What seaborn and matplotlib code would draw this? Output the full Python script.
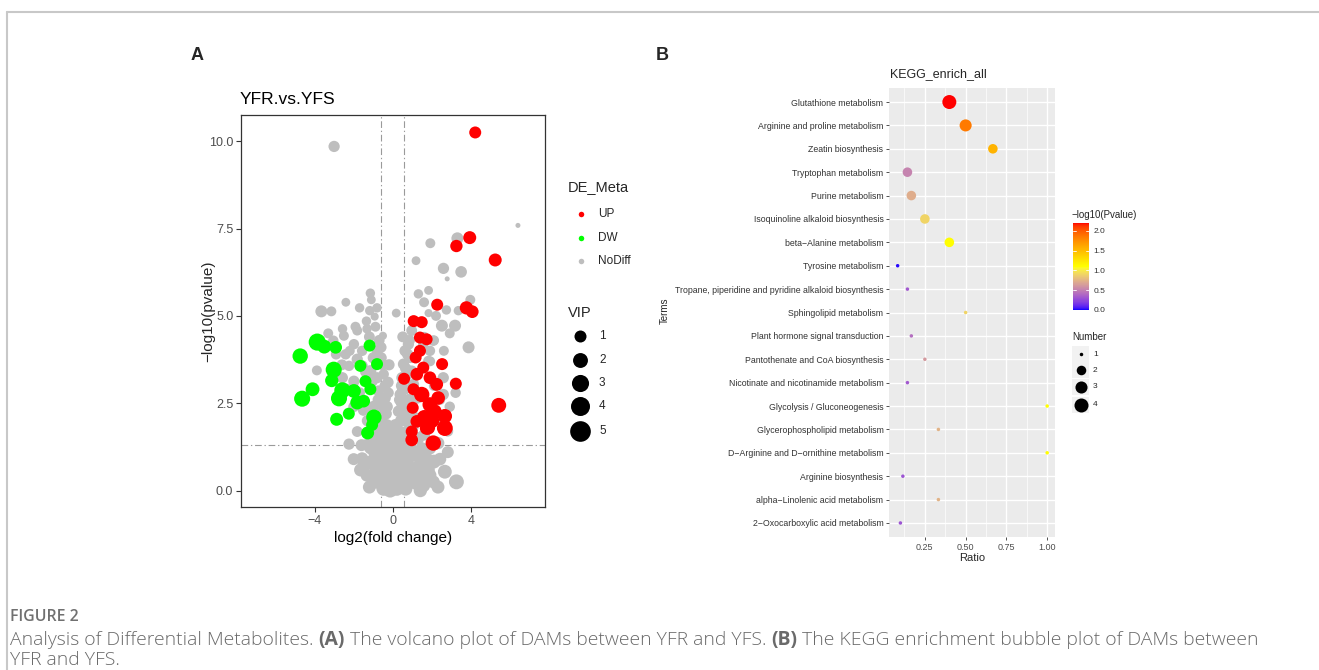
import numpy as np
import pandas as pd
import matplotlib
matplotlib.use("Agg")
import matplotlib.pyplot as plt
import seaborn as sns
from matplotlib.colors import ListedColormap, Normalize
from matplotlib.lines import Line2D
from matplotlib.patches import Rectangle
import matplotlib.cm as cm

W, H = 1319, 670

# ---------------- Panel A data (volcano) ----------------
up_x = [4.20, 3.92, 3.24, 5.22, 2.26, 3.75, 4.05, 1.06, 1.47, 1.38, 1.72, 1.16, 2.51, 0.57, 3.21,
        5.40, 1.22, 1.47, 1.89, 2.14, 2.65, 2.65, 2.06, 0.96, 1.72, 1.22, 2.23, 1.55, 1.89, 1.01,
        2.31, 1.38, 0.96, 1.80, 1.05, 1.60, 2.00]
up_y = [10.25, 7.24, 7.00, 6.60, 5.32, 5.23, 5.12, 4.85, 4.82, 4.38, 4.33, 3.81, 3.62, 3.20, 3.06,
        2.44, 3.33, 2.75, 2.46, 2.27, 2.13, 1.79, 1.36, 1.45, 1.79, 1.98, 3.04, 3.52, 3.23, 2.37,
        2.65, 4.00, 1.69, 1.80, 2.90, 2.10, 2.00]
up_vip = [1.0, 1.3, 1.1, 1.3, 1.0, 1.4, 1.2, 1.0, 1.0, 1.0, 1.0, 1.0, 1.0, 1.0, 1.0,
          2.0, 1.2, 2.2, 2.0, 1.5, 1.8, 2.4, 2.2, 1.2, 1.5, 1.2, 1.3, 1.0, 1.2, 1.0,
          1.5, 1.0, 1.0, 1.6, 1.0, 1.8, 1.8]

dw_x = [-3.86, -3.50, -2.92, -4.73, -3.02, -3.12, -4.10, -4.63, -2.58, -2.75, -1.99, -1.82,
        -2.25, -2.87, -1.19, -0.81, -1.40, -0.97, -1.29, -1.66, -1.49, -1.06, -1.15]
dw_y = [4.25, 4.12, 4.10, 3.85, 3.46, 3.15, 2.90, 2.63, 2.87, 2.64, 2.85, 2.52,
        2.20, 2.04, 4.15, 3.62, 3.13, 2.10, 1.65, 3.57, 2.56, 1.88, 2.90]
dw_vip = [3.0, 1.6, 1.2, 2.2, 2.5, 1.4, 1.6, 2.5, 2.5, 2.5, 1.6, 1.6,
          1.0, 1.3, 1.0, 1.0, 1.0, 2.2, 1.3, 1.0, 1.2, 1.0, 1.0]

nd_x = [-3.00, 6.38, 3.29, 1.91, 1.18, 2.58, 3.48, 2.77, 3.95, 1.82, 1.30, 1.59, 1.82, 2.73, 3.34,
        0.17, 2.50, 3.17, 3.86, -1.15, -1.10, -2.40, -3.65, -3.14, -1.70, -1.18, -0.81, -0.93, -1.35,
        -1.91, -2.57, -1.82, -1.32, -0.89, -0.51, -2.50, -3.04, -2.41, -3.88, -1.99, -1.57, -1.82,
        -2.24, -1.57, -2.58, -1.99, -1.15, -0.81, -0.47, -0.22, -1.82, -2.24,
        -1.65, -1.32, -1.49, -1.57, -1.15, -0.98, -0.81, -1.15, -1.32, -0.98, -0.64, -0.30, -0.39,
        -0.64, -0.56, -0.81, -0.47, -0.14, -0.05, 0.12, 0.20, 0.03, -0.22, -0.14, 0.29, 0.46, 0.54,
        0.54, 0.71, 0.79, 0.88, 0.96, 1.30, 1.38, 1.55, 1.72, 1.89, 2.06, 2.09, 2.65, 3.24, 1.13,
        1.47, 1.89, 2.31, 0.88, 0.54, 0.20, -0.30, -0.56, -0.81, -0.30, 0.12, 0.37, 0.71, 0.71,
        -0.47, -0.56, 0.29, 0.62, -0.39, -0.73, 0.37, 1.13, 1.22, 0.46, 0.54, 0.62, 0.79, 0.96,
        0.88, 0.96, 1.05, -1.06, -0.90, -1.00, -0.70, -1.10, -0.40, -0.60, -0.80, -1.00, -1.20,
        -0.60, 0.50, 0.60, 0.70, 0.80, 0.90, 0.40, 0.30, 1.00, 1.30, 1.60, 1.20, 0.00, -0.30,
        0.30, -0.90, -1.20, 1.70, 2.30, 0.10, -0.10, -1.30, -1.50, -1.70, -1.40, -2.00, -2.30,
        -2.60, -2.90, -3.30, -2.20, 1.60, 1.90, 2.10, 2.40, 2.50, 2.80, 2.90, 3.20, 2.10, 2.60,
        2.20, 2.90, 2.57, 2.57, 1.89, 1.55, 2.06, 1.81, -0.25, -0.35, -0.20, 0.35, 0.45, 0.40,
        0.65, 0.75, -0.45, -0.65, -0.75, -0.95, 0.15, -0.05, 0.95, 1.10, 1.40,
        -1.00, -0.60, -0.20, 0.40, 0.80, 1.20, 1.00, 0.50, -0.40, -0.90, -1.30, -0.20, 0.30, 0.60,
        -0.60, -0.30, 0.45, -0.25, 0.50, 0.65, -0.50, 0.75, 0.85, -0.70, 1.50, 1.80, 2.40, 2.80,
        -2.00, -1.60, 0.00, 0.25, -0.45, 0.65, 1.40]
nd_y = [9.85, 7.59, 7.22, 7.08, 6.58, 6.36, 6.26, 6.06, 5.46, 5.73, 5.63, 5.39, 5.08, 5.17, 5.15,
        5.08, 4.72, 4.72, 4.10, 5.65, 5.46, 5.39, 5.13, 5.13, 5.23, 5.15, 5.23, 4.98, 4.85,
        4.69, 4.63, 4.58, 4.63, 4.69, 4.43, 4.43, 4.29, 3.90, 3.44, 4.19, 4.00, 3.76,
        3.57, 3.57, 3.23, 3.13, 3.42, 3.23, 3.33, 2.80, 1.69, 1.33,
        0.59, 0.44, 0.73, 0.92, 0.83, 0.73, 1.02, 1.21, 1.31, 1.45, 0.73, 0.54, 1.12,
        1.31, 0.35, 0.25, 0.06, 0.01, 0.63, 0.35, 0.06, 0.83, 0.92, 1.31, 0.92, 0.73, 0.35,
        0.15, 0.44, 0.92, 0.59, 0.25, 0.54, 0.73, 0.15, 0.92, 0.44, 0.25, 0.83, 0.54, 0.25, 1.02,
        1.21, 1.21, 1.36, 1.31, 1.21, 1.40, 1.40, 1.79, 1.88, 1.88, 1.88, 1.69, 1.50, 1.98,
        2.27, 2.46, 2.27, 2.46, 2.65, 2.85, 2.75, 2.08, 2.65, 3.23, 3.62, 4.00, 4.19, 4.58,
        3.81, 3.42, 3.04, 3.13, 2.00, 2.40, 1.60, 1.70, 3.00, 3.80, 4.00, 3.80, 4.40,
        4.10, 4.40, 2.90, 3.30, 2.60, 2.20, 2.00, 1.20, 1.80, 1.50, 1.60, 0.20, 0.20, 0.20,
        0.50, 0.50, 0.10, 0.40, 0.10, 1.10, 0.40, 2.00, 2.30, 2.80, 3.40, 2.40, 2.90,
        3.60, 3.90, 4.50, 4.00, 4.40, 3.70, 3.00, 2.60, 2.00, 1.70, 2.40, 2.80, 4.30, 4.00,
        5.00, 4.50, 3.23, 2.75, 4.00, 4.19, 4.29, 3.71, 1.60, 2.20, 3.60, 2.60, 3.00, 1.00,
        1.10, 1.70, 0.90, 2.10, 2.60, 1.10, 0.70, 1.60, 0.40, 0.60, 0.80,
        0.30, 0.60, 0.30, 0.20, 0.70, 0.40, 1.10, 1.00, 0.90, 1.00, 0.80, 1.60, 1.60, 2.20,
        2.00, 2.40, 2.50, 3.10, 2.90, 3.50, 3.60, 3.90, 4.30, 4.30, 0.90, 0.60, 0.90, 1.10,
        0.90, 1.30, 0.60, 0.75, 0.45, 0.05, 0.00]
nd_vip = [0.8, 0.0, 1.0, 0.5, 0.3, 0.8, 0.9, 0.0, 0.5, 0.3, 0.4, 0.5, 0.2, 0.4, 0.4,
          0.3, 1.0, 1.0, 1.0, 0.4, 0.3, 0.3, 1.0, 0.5, 0.4, 0.4, 0.4, 0.2, 0.4,
          0.5, 0.4, 0.5, 0.4, 0.5, 0.2, 0.5, 0.6, 0.6, 0.5, 0.6, 0.6, 0.8,
          0.6, 0.8, 0.8, 0.8, 1.0, 0.8, 0.6, 0.6, 0.7, 0.8,
          1.3, 1.3, 1.1, 1.1, 1.1, 1.2, 1.1, 1.0, 1.0, 1.0, 1.2, 1.3, 1.1,
          1.1, 1.4, 1.5, 1.9, 1.9, 1.3, 1.5, 1.9, 1.3, 1.2, 1.1, 1.2, 1.2, 1.4,
          1.5, 1.3, 1.2, 1.3, 1.5, 1.3, 1.2, 1.6, 1.2, 1.3, 1.3, 1.6, 1.6, 2.0, 1.1,
          1.1, 1.1, 1.1, 1.1, 1.1, 1.0, 1.0, 0.9, 0.9, 0.9, 0.9, 0.9, 1.0, 0.9,
          0.9, 0.9, 0.9, 0.9, 0.8, 0.8, 0.8, 0.9, 0.9, 0.8, 0.8, 0.8, 0.8, 0.7,
          0.8, 0.8, 0.8, 0.8, 0.9, 0.9, 0.9, 0.9, 0.8, 0.8, 0.8, 0.8, 0.7,
          0.7, 0.7, 0.8, 0.8, 0.9, 0.9, 0.9, 1.0, 1.0, 1.0, 1.0, 1.3, 1.3, 1.3,
          1.3, 1.3, 1.3, 1.3, 1.3, 1.2, 1.3, 0.8, 0.8, 0.7, 0.7, 0.7, 0.7,
          0.7, 0.6, 0.5, 0.5, 0.5, 0.5, 0.6, 0.6, 0.7, 0.7, 0.6, 0.6, 0.5, 0.5,
          0.5, 0.5, 0.8, 0.8, 0.6, 0.6, 0.6, 0.6, 0.9, 0.9, 0.8, 0.9, 0.9, 1.1,
          1.1, 0.9, 1.1, 0.9, 0.8, 1.1, 1.3, 1.0, 1.3, 1.3, 1.2,
          1.5, 1.5, 1.8, 1.6, 1.4, 1.4, 1.2, 1.3, 1.3, 1.2, 1.2, 1.0, 1.0, 0.9,
          0.9, 0.9, 0.9, 0.8, 0.8, 0.8, 0.8, 0.8, 0.7, 0.7, 1.2, 1.4, 1.2, 1.0,
          1.0, 1.0, 1.8, 1.5, 1.6, 1.5, 1.4]

fc_cut = 0.585
p_cut = 1.301

# ---------------- Panel B data (KEGG bubble) ----------------
terms = ["Glutathione metabolism", "Arginine and proline metabolism", "Zeatin biosynthesis",
         "Tryptophan metabolism", "Purine metabolism", "Isoquinoline alkaloid biosynthesis",
         "beta\u2212Alanine metabolism", "Tyrosine metabolism",
         "Tropane, piperidine and pyridine alkaloid biosynthesis", "Sphingolipid metabolism",
         "Plant hormone signal transduction", "Pantothenate and CoA biosynthesis",
         "Nicotinate and nicotinamide metabolism", "Glycolysis / Gluconeogenesis",
         "Glycerophospholipid metabolism", "D\u2212Arginine and D\u2212ornithine metabolism",
         "Arginine biosynthesis", "alpha\u2212Linolenic acid metabolism",
         "2\u2212Oxocarboxylic acid metabolism"]
ratio = [0.40, 0.50, 0.667, 0.143, 0.167, 0.25, 0.40, 0.083, 0.143, 0.50, 0.167, 0.25,
         0.143, 1.00, 0.333, 1.00, 0.115, 0.333, 0.10]
neglogp = [2.20, 1.85, 1.55, 0.52, 0.72, 0.90, 1.10, 0.02, 0.32, 0.90, 0.42, 0.62,
           0.32, 1.10, 0.74, 1.10, 0.30, 0.74, 0.30]
number = [4, 3, 2, 2, 2, 2, 2, 1, 1, 1, 1, 1, 1, 1, 1, 1, 1, 1, 1]

# ---------------- helpers ----------------
def fx(px):
    return px / W

def fy(py):
    return 1 - py / H

_M = np.array([[0.4124564, 0.3575761, 0.1804375],
               [0.2126729, 0.7151522, 0.0721750],
               [0.0193339, 0.1191920, 0.9503041]])
_WP = np.array([0.95047, 1.0, 1.08883])

def srgb_to_lab(rgb):
    rgb = np.asarray(rgb, float)
    lin = np.where(rgb <= 0.04045, rgb / 12.92, ((rgb + 0.055) / 1.055) ** 2.4)
    xyz = lin @ _M.T
    t = xyz / _WP
    d = 6 / 29
    f = np.where(t > d ** 3, np.cbrt(t), t / (3 * d * d) + 4 / 29)
    return np.stack([116 * f[..., 1] - 16, 500 * (f[..., 0] - f[..., 1]),
                     200 * (f[..., 1] - f[..., 2])], -1)

def lab_to_srgb(lab):
    L, a, b = lab[..., 0], lab[..., 1], lab[..., 2]
    fyy = (L + 16) / 116
    f = np.stack([fyy + a / 500, fyy, fyy - b / 200], -1)
    d = 6 / 29
    t = np.where(f > d, f ** 3, 3 * d * d * (f - 4 / 29))
    lin = np.clip((t * _WP) @ np.linalg.inv(_M).T, 0, 1)
    rgb = np.where(lin <= 0.0031308, 12.92 * lin, 1.055 * lin ** (1 / 2.4) - 0.055)
    return np.clip(rgb, 0, 1)

anchors = srgb_to_lab(np.array([[0, 0, 1], [1, 1, 0], [1, 0, 0]], float))
tt = np.linspace(0, 1, 256)
labs = []
for t in tt:
    if t <= 0.5:
        u = t / 0.5
        labs.append(anchors[0] * (1 - u) + anchors[1] * u)
    else:
        u = (t - 0.5) / 0.5
        labs.append(anchors[1] * (1 - u) + anchors[2] * u)
cmap = ListedColormap(lab_to_srgb(np.array(labs)))
pnorm = Normalize(0, 2.2)

def vip_diam_px(v):
    return 5.0 + 7.0 * np.sqrt(v)

def vip_area(v):
    return (vip_diam_px(v) * 0.72) ** 2

def num_diam_px(n):
    return 3.5 + 10.5 * np.sqrt((n - 1) / 3)

def num_area(n):
    return (num_diam_px(n) * 0.72) ** 2

# ---------------- figure ----------------
sns.set_theme(style="white")
plt.rcParams['font.family'] = ['Liberation Sans', 'DejaVu Sans']
fig = plt.figure(figsize=(W / 100, H / 100), dpi=100)
fig.patch.set_facecolor('white')

# frame of the figure (top + left)
fig.add_artist(Line2D([fx(7), 1], [fy(12), fy(12)], transform=fig.transFigure, color='#c8c8c8', lw=1.5))
fig.add_artist(Line2D([fx(7), fx(7)], [0, fy(12)], transform=fig.transFigure, color='#c8c8c8', lw=1.5))

# ---------------- Panel A ----------------
axA = fig.add_axes([fx(241), fy(507), fx(545) - fx(241), fy(115) - fy(507)])
dfA = pd.DataFrame({
    'log2FC': nd_x + dw_x + up_x,
    'nlp': nd_y + dw_y + up_y,
    'VIP': nd_vip + dw_vip + up_vip,
    'DE_Meta': ['NoDiff'] * len(nd_x) + ['DW'] * len(dw_x) + ['UP'] * len(up_x),
})
size_map = {v: vip_area(v) for v in sorted(set(dfA['VIP']))}
sns.scatterplot(data=dfA, x='log2FC', y='nlp', hue='DE_Meta',
                palette={'UP': '#FF0000', 'DW': '#00FF00', 'NoDiff': '#BEBEBE'},
                size='VIP', sizes=size_map, linewidth=0, alpha=1, legend=False, ax=axA, zorder=3)
ls = (0, (6, 2.5, 1.2, 2.5))
axA.axvline(-fc_cut, color='#9a9a9a', lw=0.8, ls=ls, zorder=1)
axA.axvline(fc_cut, color='#9a9a9a', lw=0.8, ls=ls, zorder=1)
axA.axhline(p_cut, color='#9a9a9a', lw=0.8, ls=ls, zorder=1)
axA.set_xlim(-7.75, 7.76)
axA.set_ylim(-0.47, 10.75)
axA.set_xticks([-4, 0, 4])
axA.set_xticklabels(['\u22124', '0', '4'])
axA.set_yticks([0, 2.5, 5, 7.5, 10])
axA.set_yticklabels(['0.0', '2.5', '5.0', '7.5', '10.0'])
axA.tick_params(axis='both', which='major', direction='out', length=3.5, width=0.8,
                color='#333333', labelsize=9, labelcolor='#4D4D4D', pad=2,
                bottom=True, left=True)
for s in axA.spines.values():
    s.set_color('#333333')
    s.set_linewidth(0.9)
axA.set_xlabel('log2(fold change)', fontsize=11, color='black', labelpad=3)
axA.set_ylabel('')
axA.grid(False)
fig.text(fx(208), fy(311), '\u2212log10(pvalue)', fontsize=11, rotation=90, ha='center', va='center')

fig.text(fx(240), fy(100), 'YFR.vs.YFS', fontsize=12.5, ha='left', va='center', color='black')
fig.text(fx(191), fy(56), 'A', fontsize=13, fontweight='bold', ha='left', va='center')
fig.text(fx(656), fy(56), 'B', fontsize=13, fontweight='bold', ha='left', va='center')

# overlay for legends
ov = fig.add_axes([0, 0, 1, 1], zorder=10)
ov.set_xlim(0, W)
ov.set_ylim(H, 0)
ov.axis('off')

ov.text(568, 187, 'DE_Meta', fontsize=10.5, ha='left', va='center')
for yy, lab, col in [(214, 'UP', '#FF0000'), (238, 'DW', '#00FF00'), (261, 'NoDiff', '#BEBEBE')]:
    ov.scatter([581], [yy], s=(5.5 * 0.72) ** 2, color=col, linewidths=0)
    ov.text(598, yy, lab, fontsize=8.5, ha='left', va='center')
ov.text(568, 313, 'VIP', fontsize=10.5, ha='left', va='center')
for yy, v in zip([336, 360, 383, 406, 431], [1, 2, 3, 4, 5]):
    ov.scatter([580], [yy], s=vip_area(v), color='black', linewidths=0)
    ov.text(599, yy, str(v), fontsize=8.5, ha='left', va='center')

# ---------------- Panel B ----------------
axB = fig.add_axes([fx(889), fy(537), fx(1055) - fx(889), fy(88) - fy(537)])
axB.set_facecolor('#EBEBEB')
dfB = pd.DataFrame({'Terms': terms, 'Ratio': ratio, 'nlp': neglogp, 'Number': number}).iloc[::-1]
axB.set_axisbelow(True)
sns.scatterplot(data=dfB, x='Ratio', y='Terms', hue='nlp', palette=cmap, hue_norm=pnorm,
                size='Number', sizes={n: num_area(n) for n in [1, 2, 3, 4]},
                linewidth=0, legend=False, ax=axB, zorder=3)
axB.set_xlim(0.03, 1.048)
axB.set_ylim(-0.6, len(terms) - 0.4)
axB.set_xticks([0.25, 0.5, 0.75, 1.0])
axB.set_xticklabels(['0.25', '0.50', '0.75', '1.00'])
axB.set_xticks([0.125, 0.375, 0.625, 0.875], minor=True)
axB.grid(which='major', axis='both', color='white', lw=1.0)
axB.grid(which='minor', axis='x', color='white', lw=0.5)
for s in axB.spines.values():
    s.set_visible(False)
axB.tick_params(axis='both', which='major', direction='out', length=2.5, width=0.6,
                color='#333333', labelsize=6.3, labelcolor='#333333', pad=1.5,
                bottom=True, left=True)
axB.tick_params(axis='x', labelsize=6.5, labelcolor='#4D4D4D')
axB.tick_params(which='minor', length=0)
axB.set_xlabel('Ratio', fontsize=8, labelpad=1)
axB.set_ylabel('')
fig.text(fx(665), fy(311), 'Terms', fontsize=7, rotation=90, ha='center', va='center')
fig.text(fx(890), fy(74), 'KEGG_enrich_all', fontsize=9, ha='left', va='center')

# colorbar
cax = fig.add_axes([fx(1073), fy(310), fx(1089) - fx(1073), fy(223) - fy(310)])
cb = fig.colorbar(cm.ScalarMappable(norm=pnorm, cmap=cmap), cax=cax)
cb.outline.set_visible(False)
cb.set_ticks([0.0, 0.5, 1.0, 1.5, 2.0])
cb.set_ticklabels(['0.0', '0.5', '1.0', '1.5', '2.0'])
cax.tick_params(length=0, labelsize=6, labelcolor='#333333', pad=3)
for v in [0.0, 0.5, 1.0, 1.5, 2.0]:
    cax.plot([0, 0.2], [v, v], color='white', lw=0.6, transform=cax.get_yaxis_transform())
    cax.plot([0.8, 1.0], [v, v], color='white', lw=0.6, transform=cax.get_yaxis_transform())
ov.text(1071, 215, '\u2212log10(Pvalue)', fontsize=7, ha='left', va='center')

ov.text(1072, 337, 'Number', fontsize=7, ha='left', va='center')
for yy, n in zip([354, 370, 387, 405], [1, 2, 3, 4]):
    ov.add_patch(Rectangle((1072, yy - 8), 17, 16, facecolor='#F2F2F2', edgecolor='none'))
    ov.scatter([1080.5], [yy], s=num_area(n), color='black', linewidths=0)
    ov.text(1093, yy, str(n), fontsize=6, ha='left', va='center')

# ---------------- caption ----------------
cap_font = ['Open Sans', 'DejaVu Sans']
cap_col = '#6a6a6a'
renderer = fig.canvas.get_renderer()

def text_width(s, size, weight='light'):
    t = fig.text(0, 0, s, fontsize=size, fontweight=weight, family=cap_font)
    w = t.get_window_extent(renderer=renderer).width
    t.remove()
    return w

def draw_runs(x0, base, runs, size):
    sw = text_width('n n', size) - text_width('nn', size)
    x = x0
    for i, (s, wgt) in enumerate(runs):
        t = fig.text(fx(x), fy(base), s, fontsize=size, fontweight=wgt, family=cap_font,
                     color=cap_col, ha='left', va='baseline')
        x = t.get_window_extent(renderer=renderer).x1
        if i < len(runs) - 1:
            x += sw
    return x

runs1 = [('Analysis of Differential Metabolites.', 'light'), ('(A)', 'bold'),
         ('The volcano plot of DAMs between YFR and YFS.', 'light'), ('(B)', 'bold'),
         ('The KEGG enrichment bubble plot of DAMs between', 'light')]
base_size = 12.0
tot = sum(text_width(s, base_size, w) for s, w in runs1) + 4 * (text_width('n n', base_size) - text_width('nn', base_size))
cap_size = base_size * (1245 / tot)

fig.text(fx(10), fy(621), 'FIGURE 2', fontsize=cap_size * 0.82, fontweight='semibold', family=cap_font,
         color='#707070', ha='left', va='baseline')
draw_runs(10, 645, runs1, cap_size)
draw_runs(10, 665, [('YFR and YFS.', 'light')], cap_size)

fig.savefig('out.png', dpi=100, facecolor='white')
